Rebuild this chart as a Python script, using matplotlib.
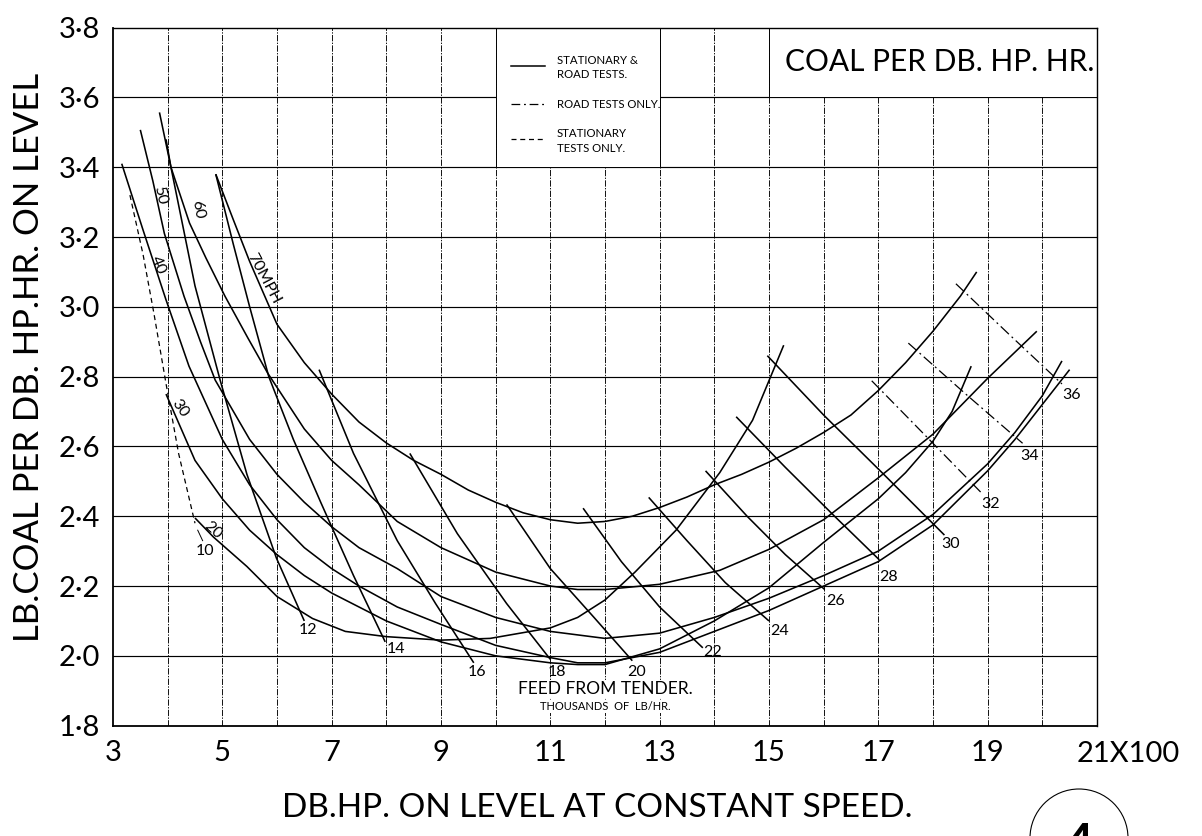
import matplotlib
matplotlib.use("Agg")
import matplotlib.pyplot as plt
import matplotlib.transforms as mtransforms
from matplotlib.patches import Rectangle, Ellipse

plt.rcParams['font.family'] = ['Lato', 'DejaVu Sans']

# speed curves: DB.HP (x100) against lb coal per DB.HP.hr
hp_20 = [4.50, 4.84, 5.45, 6.00, 6.65, 7.25, 8.00, 9.00, 9.90, 11.0, 11.5, 12.0, 12.55, 13.3, 14.1, 14.7, 15.27]
coal_20 = [2.395, 2.34, 2.256, 2.17, 2.107, 2.07, 2.055, 2.045, 2.05, 2.08, 2.11, 2.16, 2.24, 2.36, 2.525, 2.675, 2.89]

hp_30 = [3.97, 4.5, 5.0, 5.5, 6.0, 6.5, 7.0, 7.5, 8.0, 9.0, 10.0, 11.0, 11.5, 12.0, 13.0, 14.0, 15.0, 16.0, 17.0, 17.5, 18.0, 18.35, 18.7]
coal_30 = [2.75, 2.56, 2.45, 2.36, 2.29, 2.23, 2.18, 2.14, 2.10, 2.04, 2.0, 1.98, 1.975, 1.975, 2.02, 2.10, 2.195, 2.325, 2.45, 2.525, 2.615, 2.70, 2.83]

hp_40 = [3.16, 3.55, 3.97, 4.39, 5.0, 5.5, 6.0, 6.5, 7.0, 7.5, 8.2, 9.0, 10.0, 11.0, 11.5, 12.0, 13.0, 14.0, 15.0, 16.0, 17.0, 18.0, 19.0, 19.5, 20.0, 20.5]
coal_40 = [3.41, 3.22, 3.02, 2.83, 2.62, 2.49, 2.39, 2.31, 2.25, 2.20, 2.14, 2.09, 2.03, 1.995, 1.98, 1.98, 2.01, 2.07, 2.13, 2.20, 2.27, 2.375, 2.53, 2.62, 2.72, 2.82]

hp_50 = [3.50, 3.73, 3.94, 4.3, 4.6, 4.87, 5.5, 6.0, 6.5, 7.0, 7.5, 8.2, 9.0, 10.0, 11.0, 12.0, 13.0, 14.0, 15.0, 16.0, 17.0, 18.0, 19.0, 19.5, 20.0, 20.36]
coal_50 = [3.507, 3.36, 3.21, 3.03, 2.90, 2.79, 2.62, 2.52, 2.44, 2.37, 2.31, 2.25, 2.17, 2.11, 2.07, 2.05, 2.065, 2.11, 2.165, 2.23, 2.30, 2.405, 2.55, 2.64, 2.745, 2.845]

hp_60 = [3.85, 4.06, 4.4, 4.7, 5.05, 5.47, 5.83, 6.5, 7.0, 7.5, 8.2, 9.0, 10.0, 11.0, 11.5, 12.0, 13.0, 14.1, 15.0, 16.0, 17.0, 18.0, 19.0, 19.9]
coal_60 = [3.557, 3.40, 3.24, 3.14, 3.03, 2.91, 2.81, 2.65, 2.56, 2.49, 2.385, 2.31, 2.24, 2.20, 2.19, 2.19, 2.205, 2.245, 2.305, 2.39, 2.51, 2.635, 2.795, 2.93]

hp_70 = [4.88, 5.2, 5.5, 6.0, 6.5, 7.0, 7.5, 8.0, 8.5, 9.0, 9.5, 10.0, 10.5, 11.0, 11.5, 12.0, 12.5, 13.0, 13.5, 14.0, 14.5, 15.0, 15.5, 16.0, 16.5, 17.0, 17.5, 18.0, 18.5, 18.8]
coal_70 = [3.38, 3.25, 3.13, 2.95, 2.84, 2.75, 2.67, 2.61, 2.56, 2.52, 2.475, 2.44, 2.41, 2.39, 2.38, 2.385, 2.40, 2.425, 2.455, 2.49, 2.52, 2.555, 2.595, 2.64, 2.69, 2.76, 2.84, 2.93, 3.03, 3.10]

# lines of constant feed from tender, thousands of lb/hr
feed_10_x = [3.31, 3.55, 3.75, 3.97, 4.2, 4.5]
feed_10_y = [3.32, 3.15, 2.98, 2.78, 2.58, 2.38]
feed_12_x = [3.97, 4.06, 4.5, 4.96, 5.45, 5.99, 6.5]
feed_12_y = [3.48, 3.40, 3.06, 2.79, 2.52, 2.28, 2.10]
feed_14_x = [4.88, 5.2, 5.5, 5.85, 6.3, 6.8, 7.4, 7.98]
feed_14_y = [3.38, 3.18, 3.0, 2.80, 2.62, 2.44, 2.23, 2.04]
feed_16_x = [6.77, 7.4, 8.2, 8.9, 9.6]
feed_16_y = [2.82, 2.58, 2.33, 2.15, 1.98]
feed_18_x = [8.43, 9.3, 10.2, 11.0]
feed_18_y = [2.58, 2.35, 2.15, 1.99]
feed_20_x = [10.2, 11.0, 11.8, 12.5]
feed_20_y = [2.434, 2.25, 2.11, 1.986]
feed_22_x = [11.6, 12.3, 13.0, 13.79]
feed_22_y = [2.423, 2.27, 2.14, 2.023]
feed_24_x = [12.8, 13.5, 14.2, 15.0]
feed_24_y = [2.454, 2.33, 2.21, 2.10]
feed_26_x = [13.84, 14.6, 15.3, 16.02]
feed_26_y = [2.53, 2.40, 2.29, 2.19]
feed_28_x = [14.4, 15.3, 16.2, 17.02]
feed_28_y = [2.685, 2.54, 2.40, 2.275]
feed_30_x = [14.97, 16.0, 17.1, 18.21]
feed_30_y = [2.86, 2.69, 2.52, 2.346]
feed_32_x = [16.88, 17.9, 18.88]
feed_32_y = [2.788, 2.625, 2.468]
feed_34_x = [17.55, 18.6, 19.64]
feed_34_y = [2.896, 2.75, 2.609]
feed_36_x = [18.42, 19.4, 20.36]
feed_36_y = [3.066, 2.92, 2.779]

feed_labels = ['10', '12', '14', '16', '18', '20', '22', '24', '26', '28', '30', '32', '34', '36']
feed_label_x = [4.68, 6.56, 8.17, 9.65, 11.13, 12.58, 13.97, 15.2, 16.22, 17.19, 18.33, 19.06, 19.77, 20.53]
feed_label_y = [2.30, 2.075, 2.02, 1.955, 1.955, 1.955, 2.01, 2.07, 2.157, 2.226, 2.32, 2.436, 2.572, 2.746]

speed_labels = ['20', '30', '40', '50', '60', '70MPH']
speed_label_x = [4.83, 4.22, 3.82, 3.86, 4.55, 5.75]
speed_label_y = [2.36, 2.71, 3.12, 3.32, 3.28, 3.08]
speed_label_rot = [-42, -55, -68, -78, -80, -62]

x_ticks = [3, 5, 7, 9, 11, 13, 15, 17, 19]
y_ticks = [1.8, 2.0, 2.2, 2.4, 2.6, 2.8, 3.0, 3.2, 3.4, 3.6, 3.8]
y_tick_labels = ['1·8', '2·0', '2·2', '2·4', '2·6', '2·8', '3·0', '3·2', '3·4', '3·6', '3·8']

fig = plt.figure(figsize=(12.02, 8.36), dpi=100)
ax = fig.add_axes([0.094, 0.132, 0.8186, 0.835])
ax.set_xlim(3, 21)
ax.set_ylim(1.8, 3.8)

# drawing-board grid: broken verticals, solid horizontals
for gx in range(4, 21):
    ax.axvline(gx, color='black', lw=0.65, ls=(0, (7, 1.5, 1.5, 1.5)), zorder=1)
for gy in y_ticks[1:-1]:
    ax.axhline(gy, color='black', lw=0.85, zorder=1)

# blank panels for the key and the heading
ax.add_patch(Rectangle((10, 3.4), 3, 0.4, fc='white', ec='black', lw=0.7, zorder=1.5))
ax.add_patch(Rectangle((15, 3.6), 6, 0.2, fc='white', ec='black', lw=0.7, zorder=1.5))

curve_kw = dict(color='black', lw=1.15, zorder=3, solid_capstyle='butt')
for hx, cy in [(hp_20, coal_20), (hp_30, coal_30), (hp_40, coal_40),
               (hp_50, coal_50), (hp_60, coal_60), (hp_70, coal_70)]:
    ax.plot(hx, cy, **curve_kw)

ax.plot(feed_10_x, feed_10_y, color='black', lw=0.9, ls=(0, (4, 3)), zorder=3)
for fx, fy in [(feed_12_x, feed_12_y), (feed_14_x, feed_14_y), (feed_16_x, feed_16_y),
               (feed_18_x, feed_18_y), (feed_20_x, feed_20_y), (feed_22_x, feed_22_y),
               (feed_24_x, feed_24_y), (feed_26_x, feed_26_y), (feed_28_x, feed_28_y),
               (feed_30_x, feed_30_y)]:
    ax.plot(fx, fy, **curve_kw)
for fx, fy in [(feed_32_x, feed_32_y), (feed_34_x, feed_34_y), (feed_36_x, feed_36_y)]:
    ax.plot(fx, fy, color='black', lw=0.9, ls=(0, (9, 3, 1.5, 3)), zorder=3)

# leader from the 10 label to the end of its line
ax.plot([feed_10_x[-1] + 0.05, feed_label_x[0] - 0.04], [feed_10_y[-1] - 0.02, feed_label_y[0] + 0.03],
        color='black', lw=0.7, zorder=3)

for lab, lx, ly in zip(feed_labels, feed_label_x, feed_label_y):
    ax.text(lx, ly, lab, fontsize=11.5, ha='center', va='center', zorder=4)
for lab, lx, ly, rot in zip(speed_labels, speed_label_x, speed_label_y, speed_label_rot):
    ax.text(lx, ly, lab, fontsize=11.5, ha='center', va='center', rotation=rot,
            rotation_mode='anchor', zorder=4)

ax.text(12.0, 1.905, 'FEED FROM TENDER.', fontsize=12.5, ha='center', va='center', zorder=4,
        bbox=dict(fc='white', ec='none', pad=1))
ax.text(12.0, 1.855, 'THOUSANDS  OF  LB/HR.', fontsize=8, ha='center', va='center', zorder=4,
        bbox=dict(fc='white', ec='none', pad=1))

# key
ax.plot([10.29, 10.91], [3.69, 3.69], color='black', lw=1.1, zorder=3)
ax.plot([10.29, 10.91], [3.58, 3.58], color='black', lw=0.9, ls=(0, (7, 3, 1.5, 3)), zorder=3)
ax.plot([10.29, 10.91], [3.48, 3.48], color='black', lw=0.9, ls=(0, (4, 3)), zorder=3)
key_kw = dict(fontsize=8.2, va='center', linespacing=1.35, zorder=4)
ax.text(11.12, 3.685, 'STATIONARY &\nROAD TESTS.', **key_kw)
ax.text(11.12, 3.58, 'ROAD TESTS ONLY.', **key_kw)
ax.text(11.12, 3.475, 'STATIONARY\nTESTS ONLY.', **key_kw)

ax.text(18.12, 3.70, 'COAL PER DB. HP. HR.', fontsize=21.5, ha='center', va='center', zorder=4)

ax.set_xticks(x_ticks)
ax.set_xticklabels([str(t) for t in x_ticks])
ax.set_yticks(y_ticks)
ax.set_yticklabels(y_tick_labels)
ax.tick_params(length=0, labelsize=21)
ax.tick_params(axis='x', pad=10)
ax.tick_params(axis='y', pad=9)
edge = mtransforms.blended_transform_factory(ax.transData, ax.transAxes)
ax.text(20.62, -0.022, '21X100', transform=edge, fontsize=21, ha='left', va='top')

for side in ['top', 'right']:
    ax.spines[side].set_linewidth(1.0)
ax.spines['left'].set_linewidth(1.3)
ax.spines['bottom'].set_linewidth(1.3)

fig.text(0.497, 0.033, 'DB.HP. ON LEVEL AT CONSTANT SPEED.', fontsize=24, ha='center', va='center')
fig.text(0.024, 0.573, 'LB.COAL PER DB. HP.HR. ON LEVEL', fontsize=25, ha='center', va='center',
         rotation=90)

# plate number in its circle, running off the foot of the sheet
fig.add_artist(Ellipse((1079 / 1202, -2 / 836), 98 / 1202, 98 / 836, transform=fig.transFigure,
                       fill=False, ec='black', lw=0.8))
fig.text(1079 / 1202, 1 - 822 / 836, '4', fontsize=34, fontweight='bold', ha='center', va='top')

fig.savefig('out.png', dpi=100, facecolor='white')
